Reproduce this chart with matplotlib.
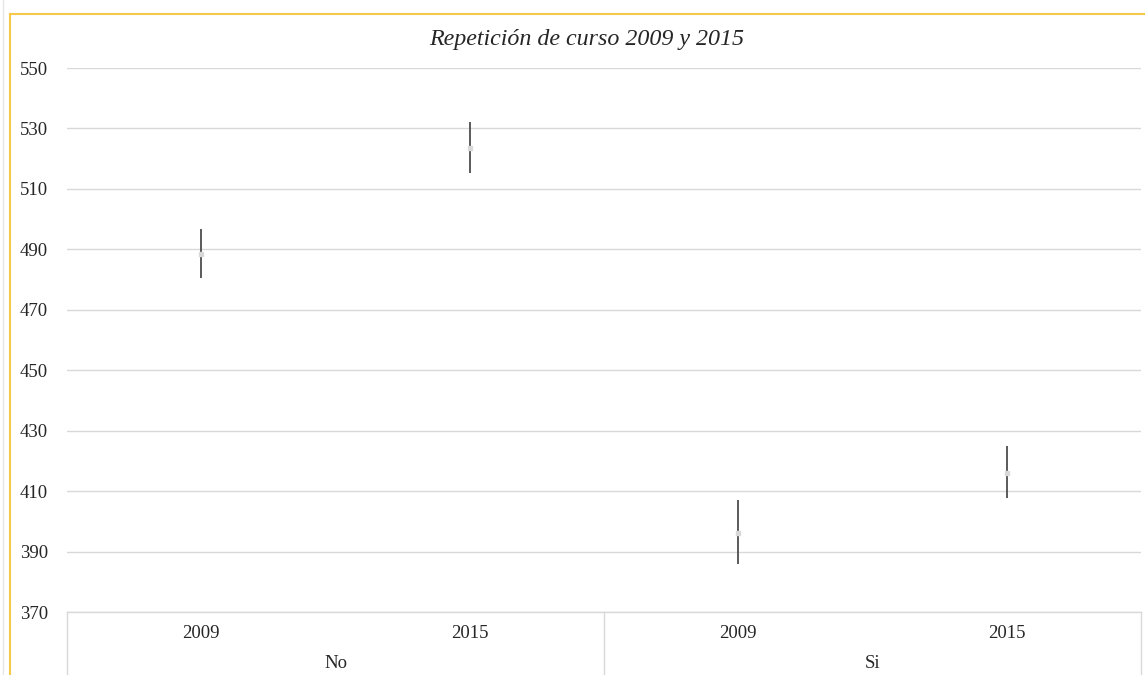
import matplotlib
matplotlib.use("Agg")
import matplotlib.pyplot as plt
from matplotlib.lines import Line2D

# Data
groups = ["No", "Si"]
years = ["2009", "2015", "2009", "2015"]
high = [496.7, 532.1, 407.0, 424.9]
low = [480.5, 515.3, 385.9, 407.7]
mid = [488.5, 523.5, 396.1, 416.0]
yticks = [370, 390, 410, 430, 450, 470, 490, 510, 530, 550]
title = "Repetición de curso 2009 y 2015"

W, H = 1145, 675
fig = plt.figure(figsize=(W / 100, H / 100), dpi=100)
fig.patch.set_facecolor("white")

x0, x1 = 67, 1141
ytop, ybot = 68, 612
ax = fig.add_axes([x0 / W, 1 - ybot / H, (x1 - x0) / W, (ybot - ytop) / H])
ax.set_xlim(-0.5, len(years) - 0.5)
ax.set_ylim(370, 550)
for s in ax.spines.values():
    s.set_visible(False)
ax.set_yticks(yticks)
ax.set_yticklabels([str(v) for v in yticks], fontfamily="Liberation Serif", fontsize=13.5, color="#262626")
ax.tick_params(axis="y", length=0, pad=34)
for lab in ax.get_yticklabels():
    lab.set_horizontalalignment("left")
ax.set_xticks([])
ax.grid(axis="y", color="#D9D9D9", linewidth=1.0)
ax.set_axisbelow(True)

xs = list(range(len(years)))
ax.vlines(xs, low, high, color="#5A5A5A", linewidth=1.4, zorder=3)
ax.plot(xs, mid, linestyle="none", marker="s", markersize=3.5, markerfacecolor="#D8D8D8",
        markeredgecolor="#D8D8D8", zorder=4)

# Category axis (multi-level)
axis_h = ybot - ytop
below = (H - ybot) / axis_h
ax.add_line(Line2D([0, 1], [0, 0], transform=ax.transAxes, color="#D9D9D9", lw=1.0, clip_on=False))
for xa in [0, 0.5, 1]:
    ax.add_line(Line2D([xa, xa], [0, -below], transform=ax.transAxes, color="#D9D9D9",
                       lw=1.0, clip_on=False))
y_year = -(633 - ybot) / axis_h
y_group = -(664 - ybot) / axis_h
for i, yl in enumerate(years):
    ax.text((i + 0.5) / len(years), y_year, yl, transform=ax.transAxes, ha="center", va="center",
            fontfamily="Liberation Serif", fontsize=13.5, color="#262626")
for j, g in enumerate(groups):
    ax.text((j + 0.5) / len(groups), y_group, g, transform=ax.transAxes, ha="center", va="center",
            fontfamily="Liberation Serif", fontsize=13.5, color="#262626")

# Title
fig.text(587 / W, 1 - 40 / H, title, ha="center", va="center", fontfamily="Liberation Serif",
         fontstyle="italic", fontsize=17.3, color="#262626")

# Outer frame (gold) and faint left line
fig.add_artist(Line2D([9.5 / W, 9.5 / W], [0, 1 - 14 / H], color="#F7C948", lw=1.5))
fig.add_artist(Line2D([9.5 / W, 1], [1 - 14 / H, 1 - 14 / H], color="#F7C948", lw=1.5))
fig.add_artist(Line2D([2.5 / W, 2.5 / W], [0, 1], color="#E6E6E6", lw=1.0))

fig.savefig("out.png", dpi=100, facecolor="white")
